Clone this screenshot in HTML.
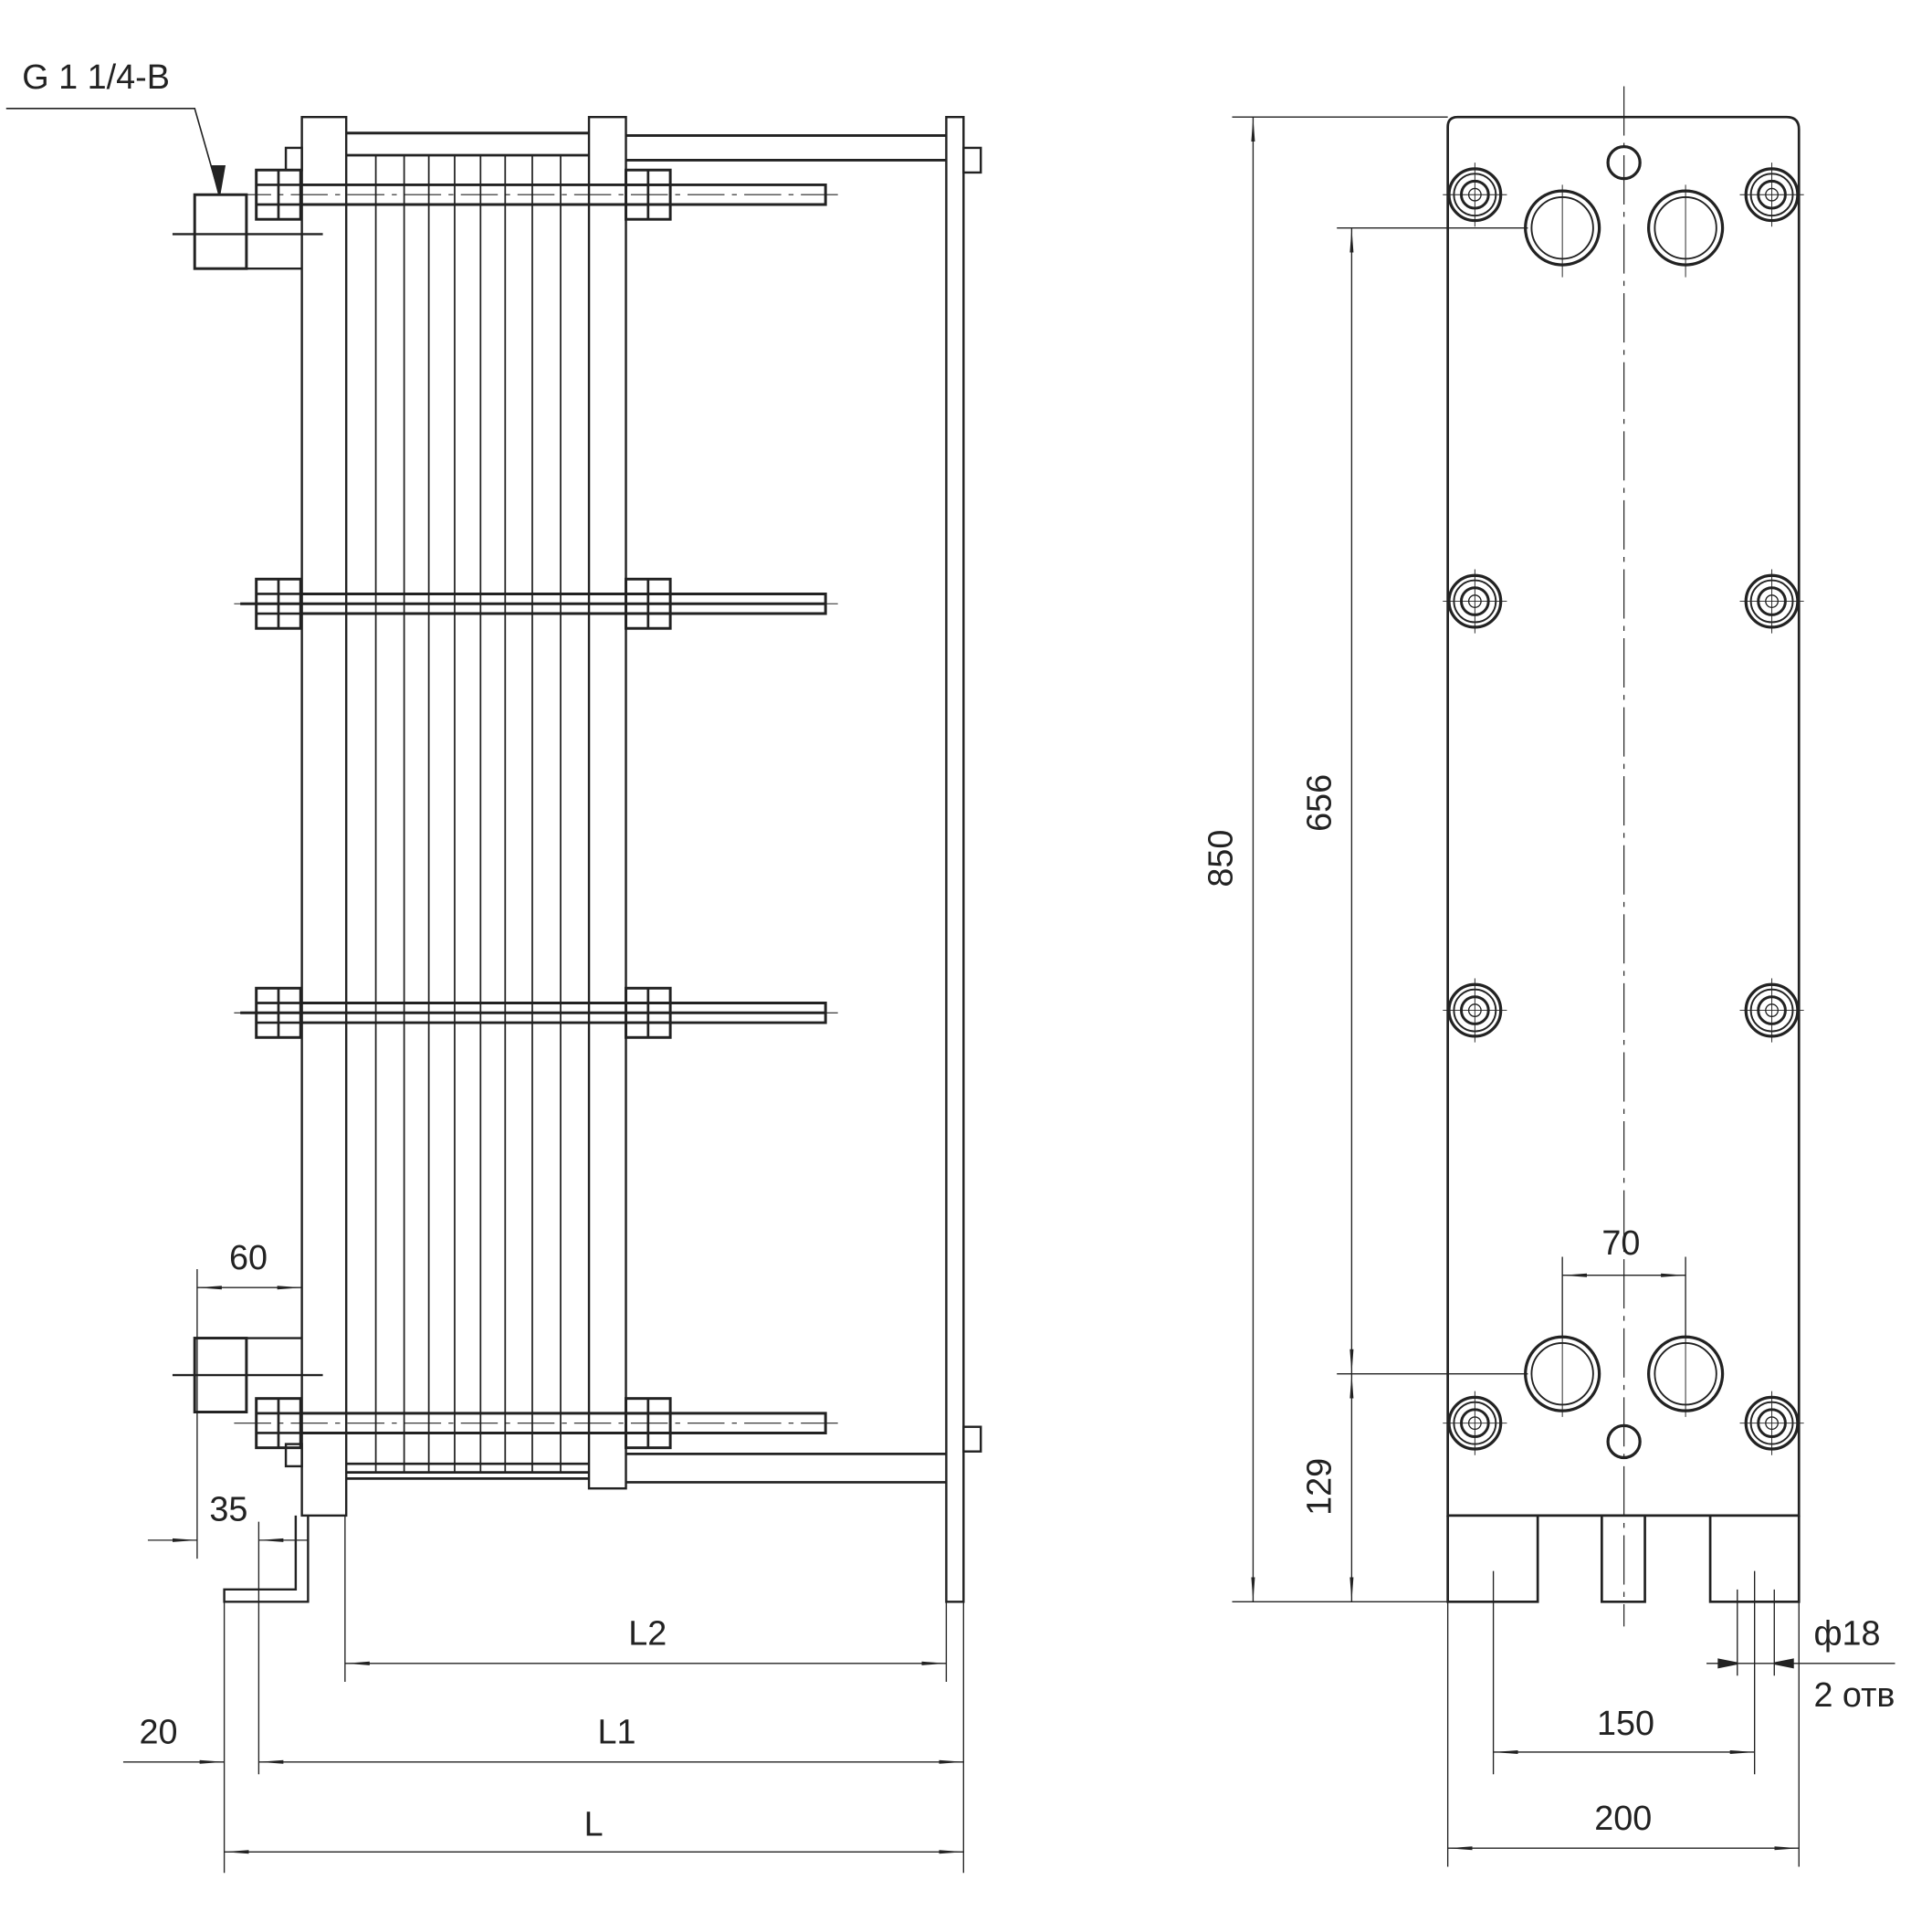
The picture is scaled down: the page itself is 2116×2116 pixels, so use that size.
<!DOCTYPE html>
<html><head><meta charset="utf-8"><style>html,body{margin:0;padding:0;background:#fff}svg{display:block}</style></head>
<body>
<svg width="2116" height="2116" viewBox="0 0 1568 1568" xmlns="http://www.w3.org/2000/svg" font-family="'Liberation Sans', sans-serif" fill="none" stroke="#222" stroke-width="1.8">
<defs>
<marker id="a" viewBox="0 0 20 6" refX="20" refY="3" markerWidth="20" markerHeight="6" orient="auto-start-reverse" markerUnits="userSpaceOnUse"><path d="M0,1.5 L20,3 L0,4.5Z" fill="#222" stroke="none"/></marker>
<g id="bolt"><circle r="21" stroke-width="2.4"/><circle r="17" stroke-width="1.4"/><circle r="11" stroke-width="2.2"/><circle r="5" stroke-width="1"/><path d="M-26 0H26M0 -26V26" stroke-width="0.7"/></g>
<g id="nutL"><rect x="208" y="-20" width="36" height="40" stroke-width="2.2"/><path d="M226 -20V20M208 -8H244M208 8H244" stroke-width="2"/></g>
<g id="nutR"><rect x="508" y="-20" width="36" height="40" stroke-width="2.2"/><path d="M526 -20V20M508 -8H544M508 8H544" stroke-width="2"/></g>
</defs>

<!-- ===== LEFT VIEW ===== -->
<text x="18" y="72" font-size="28" fill="#222" stroke="none">G 1 1/4-B</text>
<path d="M5 88H158L178 158" stroke-width="1.2"/>
<path d="M172 135L178 158L182 135Z" fill="#222"/>

<!-- front plate -->
<rect x="245" y="95" width="36" height="1135"/>
<!-- pressure plate -->
<rect x="478" y="95" width="30" height="1113"/>
<!-- right column -->
<rect x="768" y="95" width="14" height="1205"/>
<!-- top / bottom bars -->
<path d="M281 108H478M508 110H768M508 130H768" stroke-width="2.2"/>
<path d="M281 1188H478M281 1200H478M508 1180H768M508 1203H768" stroke-width="2"/>
<!-- plate pack -->
<path d="M281 126H478M281 1195H478" stroke-width="2"/>
<g stroke-width="1.3">
<path d="M305 126V1195M328 126V1195M348 126V1195M369 126V1195M390 126V1195M410 126V1195M432 126V1195M455 126V1195"/>
</g>
<!-- rods -->
<g stroke-width="2.2">
<path d="M245 150H670V166H245"/>
<path d="M195 490H670M245 482H670V498H245" />
<path d="M195 822H670M245 814H670V830H245"/>
<path d="M245 1147H670V1163H245"/>
</g>
<g stroke-width="0.8" stroke-dasharray="30 6 4 6"><path d="M190 158H680M190 490H680M190 822H680M190 1155H680"/></g>
<!-- fill rod band white over plates -->
<g>
<use href="#nutL" y="158"/><use href="#nutR" y="158"/>
<use href="#nutL" y="490"/><use href="#nutR" y="490"/>
<use href="#nutL" y="822"/><use href="#nutR" y="822"/>
<use href="#nutL" y="1155"/><use href="#nutR" y="1155"/>
</g>
<!-- small bolt heads on column -->
<rect x="782" y="120" width="14" height="20"/>
<rect x="782" y="1158" width="14" height="20"/>
<rect x="232" y="120" width="13" height="18"/>
<rect x="232" y="1172" width="13" height="18"/>
<!-- top fitting -->
<rect x="158" y="158" width="42" height="60" stroke-width="2.2"/>
<path d="M200 218H245M140 190H262"/>
<!-- bottom fitting -->
<rect x="158" y="1086" width="42" height="60" stroke-width="2.2"/>
<path d="M200 1086H245M140 1116H262"/>
<!-- foot -->
<path d="M250 1230V1300H182V1290H240V1230"/>

<!-- dims left -->
<path d="M160 1030V1265M245 1030V1100M210 1235V1440" stroke-width="1"/>
<line x1="160" y1="1045" x2="245" y2="1045" marker-start="url(#a)" marker-end="url(#a)" stroke-width="1"/>
<text x="186" y="1030" font-size="28" fill="#222" stroke="none">60</text>
<line x1="120" y1="1250" x2="160" y2="1250" marker-end="url(#a)" stroke-width="1"/>
<line x1="250" y1="1250" x2="210" y2="1250" marker-end="url(#a)" stroke-width="1"/>
<text x="170" y="1234" font-size="28" fill="#222" stroke="none">35</text>
<path d="M280 1230V1365M768 1300V1365M782 1300V1520M182 1300V1520" stroke-width="1"/>
<line x1="280" y1="1350" x2="768" y2="1350" marker-start="url(#a)" marker-end="url(#a)" stroke-width="1"/>
<text x="510" y="1335" font-size="28" fill="#222" stroke="none">L2</text>
<line x1="210" y1="1430" x2="782" y2="1430" marker-start="url(#a)" marker-end="url(#a)" stroke-width="1"/>
<line x1="100" y1="1430" x2="182" y2="1430" marker-end="url(#a)" stroke-width="1"/>
<text x="485" y="1415" font-size="28" fill="#222" stroke="none">L1</text>
<text x="113" y="1415" font-size="28" fill="#222" stroke="none">20</text>
<line x1="182" y1="1503" x2="782" y2="1503" marker-start="url(#a)" marker-end="url(#a)" stroke-width="1"/>
<text x="474" y="1490" font-size="28" fill="#222" stroke="none">L</text>

<!-- ===== RIGHT VIEW ===== -->
<path d="M1175 1230V103Q1175 95 1183 95H1450Q1460 95 1460 105V1230Z" stroke-width="2"/>
<path d="M1175 1230V1300H1248V1230M1300 1230V1300H1335V1230M1388 1230V1300H1460V1230" stroke-width="2"/>
<path d="M1318 70V1320" stroke-width="0.9" stroke-dasharray="40 6 4 6"/>
<!-- ports -->
<g stroke-width="2.4">
<circle cx="1268" cy="185" r="30"/><circle cx="1268" cy="185" r="25" stroke-width="1.4"/>
<circle cx="1368" cy="185" r="30"/><circle cx="1368" cy="185" r="25" stroke-width="1.4"/>
<circle cx="1268" cy="1115" r="30"/><circle cx="1268" cy="1115" r="25" stroke-width="1.4"/>
<circle cx="1368" cy="1115" r="30"/><circle cx="1368" cy="1115" r="25" stroke-width="1.4"/>
<circle cx="1318" cy="132" r="13"/><circle cx="1318" cy="1170" r="13"/>
</g>
<path d="M1268 150V225M1368 150V225M1268 1080V1150M1368 1080V1150" stroke-width="0.7"/>
<use href="#bolt" x="1197" y="158"/><use href="#bolt" x="1438" y="158"/>
<use href="#bolt" x="1197" y="488"/><use href="#bolt" x="1438" y="488"/>
<use href="#bolt" x="1197" y="820"/><use href="#bolt" x="1438" y="820"/>
<use href="#bolt" x="1197" y="1155"/><use href="#bolt" x="1438" y="1155"/>

<!-- dims right -->
<path d="M1000 95H1175M1000 1300H1175M1085 185H1240M1085 1115H1240" stroke-width="1"/>
<line x1="1017" y1="95" x2="1017" y2="1300" marker-start="url(#a)" marker-end="url(#a)" stroke-width="1"/>
<text transform="translate(1000,720) rotate(-90)" font-size="28" fill="#222" stroke="none">850</text>
<line x1="1097" y1="185" x2="1097" y2="1115" marker-start="url(#a)" marker-end="url(#a)" stroke-width="1"/>
<text transform="translate(1080,675) rotate(-90)" font-size="28" fill="#222" stroke="none">656</text>
<line x1="1097" y1="1115" x2="1097" y2="1300" marker-start="url(#a)" marker-end="url(#a)" stroke-width="1"/>
<text transform="translate(1080,1230) rotate(-90)" font-size="28" fill="#222" stroke="none">129</text>
<path d="M1268 1020V1085M1368 1020V1085" stroke-width="1"/>
<line x1="1268" y1="1035" x2="1368" y2="1035" marker-start="url(#a)" marker-end="url(#a)" stroke-width="1"/>
<text x="1300" y="1018" font-size="28" fill="#222" stroke="none">70</text>
<path d="M1212 1275V1440M1424 1275V1440M1175 1300V1515M1460 1300V1515M1410 1290V1360M1440 1290V1360" stroke-width="1"/>
<line x1="1212" y1="1422" x2="1424" y2="1422" marker-start="url(#a)" marker-end="url(#a)" stroke-width="1"/>
<text x="1296" y="1408" font-size="28" fill="#222" stroke="none">150</text>
<line x1="1175" y1="1500" x2="1460" y2="1500" marker-start="url(#a)" marker-end="url(#a)" stroke-width="1"/>
<text x="1294" y="1485" font-size="28" fill="#222" stroke="none">200</text>
<path d="M1385 1350H1538" stroke-width="1"/>
<path d="M1395 1347L1410 1350L1395 1353ZM1455 1347L1440 1350L1455 1353Z" fill="#222"/>
<text x="1472" y="1335" font-size="28" fill="#222" stroke="none">ф18</text>
<text x="1472" y="1385" font-size="28" fill="#222" stroke="none">2 отв</text>
</svg>
</body></html>
